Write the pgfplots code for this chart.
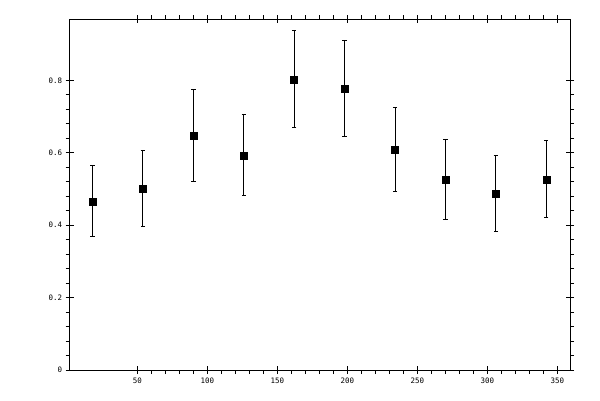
\documentclass[border=0pt]{standalone}
\usepackage{fontspec}
\setmonofont{DejaVu Sans Mono}
\usepackage{pgfplots}
\pgfplotsset{compat=1.18}

\pgfplotsset{
  frame/.style={
    at={(69.7bp,30bp)}, anchor=south west,
    scale only axis, width=500.3bp, height=350.7bp,
    xmin=1.7, xmax=359, ymin=0, ymax=0.969,
    xtick={50,100,150,200,250,300,350},
    ytick={0,0.2,0.4,0.6,0.8},
    xtick pos=both, ytick pos=both,
    tick style={line width=1bp, black},
  }
}

\begin{document}
\begin{tikzpicture}[x=1bp,y=1bp]
\useasboundingbox (0,0) rectangle (600,400);

\begin{axis}[
  frame,
  xticklabel pos=lower, yticklabel pos=left,
  minor x tick num=4, minor y tick num=4,
  tick align=outside,
  major tick length=4bp, minor tick length=4bp,
  axis line style={line width=1bp},
  ticklabel style={font=\fontsize{7.5}{8}\ttfamily},
  /pgf/number format/assume math mode=true,
  yticklabel style={/pgf/number format/fixed, /pgf/number format/precision=1},
]
  \addplot[
    only marks,
    mark=square*,
    mark size=3.5bp,
    black,
    error bars/.cd,
      y dir=both, y explicit,
      error bar style={line width=0.9bp, black},
      error mark options={rotate=90, mark size=2.2bp, line width=0.9bp, black},
  ] coordinates {
    (18,0.466)  +- (0,0.098)
    (54,0.502)  +- (0,0.105)
    (90,0.648)  +- (0,0.128)
    (126,0.593) +- (0,0.112)
    (162,0.803) +- (0,0.134)
    (198,0.778) +- (0,0.132)
    (234,0.610) +- (0,0.116)
    (270,0.527) +- (0,0.110)
    (306,0.488) +- (0,0.104)
    (342,0.527) +- (0,0.106)
  };
\end{axis}

% inner halves of the major ticks
\begin{axis}[
  frame,
  axis line style={draw=none},
  tick align=inside,
  major tick length=4bp,
  minor x tick num=0, minor y tick num=0,
  xticklabels={}, yticklabels={},
]
  \addplot[draw=none] coordinates {(100,0.5)};
\end{axis}
\end{tikzpicture}
\end{document}
